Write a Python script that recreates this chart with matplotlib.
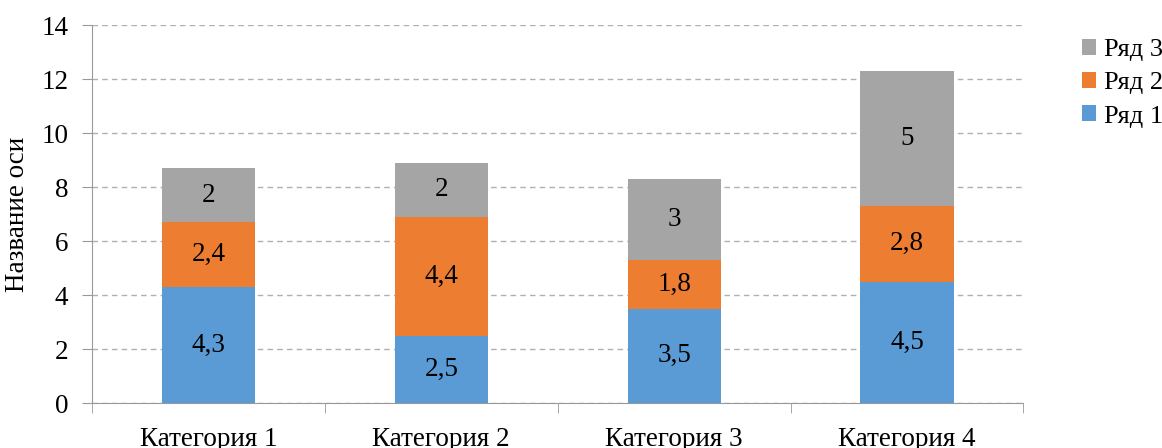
import matplotlib.pyplot as plt
import numpy as np

plt.rcParams['font.family'] = ['Liberation Serif', 'DejaVu Serif']

categories = ['Категория 1', 'Категория 2', 'Категория 3', 'Категория 4']
series_names = ['Ряд 1', 'Ряд 2', 'Ряд 3']
row1 = [4.3, 2.5, 3.5, 4.5]
row2 = [2.4, 4.4, 1.8, 2.8]
row3 = [2, 2, 3, 5]
colors = ['#5b9bd5', '#ed7d31', '#a5a5a5']
fs = 19.5

fig = plt.figure(figsize=(11.62, 4.48), dpi=100)
ax = fig.add_axes([0.0792, 0.1004, 0.8015, 0.8437])

x = np.arange(len(categories))
bottom = np.zeros(len(categories))
for vals, name, c in zip([row1, row2, row3], series_names, colors):
    b = ax.bar(x, vals, 0.4, bottom=bottom, color=c, label=name, zorder=3)
    labels = [str(v).replace('.', ',') for v in vals]
    ax.bar_label(b, labels=labels, label_type='center', fontsize=fs, color='black')
    bottom += np.array(vals)

ax.set_xlim(-0.5, 3.5)
ax.set_ylim(0, 14)
ax.set_yticks(range(0, 15, 2))
ax.set_xticks(x)
ax.set_xticklabels(categories)
ax.set_xticks(np.arange(-0.5, 4, 1), minor=True)
ax.tick_params(axis='x', which='major', length=0, pad=17, labelsize=fs)
ax.tick_params(axis='x', which='minor', length=7, color='#999999')
ax.tick_params(axis='y', length=7, color='#999999', labelsize=fs, pad=10)

ax.grid(axis='y', linestyle=(0, (4, 3)), color='#b0b0b0', linewidth=1, zorder=0)
for s in ['top', 'right']:
    ax.spines[s].set_visible(False)
for s in ['left', 'bottom']:
    ax.spines[s].set_color('#999999')

ax.set_ylabel('Название оси', fontsize=fs, labelpad=8)

h, l = ax.get_legend_handles_labels()
ax.legend(h[::-1], l[::-1], loc='upper left', bbox_to_anchor=(1.043, 1.013),
          frameon=False, fontsize=19, handlelength=0.55, handleheight=0.55,
          handletextpad=0.3, labelspacing=0.42, borderaxespad=0.3)

fig.savefig('out.png', dpi=100)
